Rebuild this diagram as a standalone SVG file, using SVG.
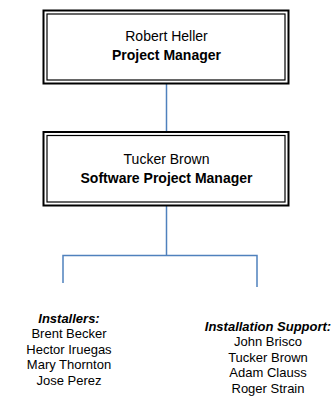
<svg xmlns="http://www.w3.org/2000/svg" width="336" height="399" viewBox="0 0 336 399">
  <style>
    .outer { fill: #ffffff; stroke: #000000; stroke-width: 2; }
    .inner { fill: none; stroke: #000000; stroke-width: 1.2; }
    .t { font-family: "Liberation Sans", Arial, sans-serif; font-size: 14px; fill: #000000; text-anchor: middle; }
    .s { font-size: 13px; }
    .b { font-weight: bold; }
    .bi { font-weight: bold; font-style: italic; }
    .conn { fill: none; stroke: #4F81BD; stroke-width: 1.5; }
  </style>

  <g id="connectors">
    <line class="conn" x1="166.5" y1="84" x2="166.5" y2="132"/>
    <line class="conn" x1="166.5" y1="205.5" x2="166.5" y2="255.5"/>
    <polyline class="conn" points="63,283 63,255.5 257,255.5 257,287"/>
  </g>

  <g id="robert-heller">
    <rect class="outer" x="43.5" y="10.5" width="245" height="73"/>
    <rect class="inner" x="47" y="14" width="238" height="66"/>
    <text class="t" x="166.5" y="41">Robert Heller</text>
    <text class="t b" x="166.5" y="60">Project Manager</text>
  </g>

  <g id="tucker-brown">
    <rect class="outer" x="43.5" y="132" width="245" height="73.5"/>
    <rect class="inner" x="47" y="135.5" width="238" height="66.5"/>
    <text class="t" x="166.5" y="164">Tucker Brown</text>
    <text class="t b" x="166.5" y="183">Software Project Manager</text>
  </g>

  <g id="installers">
    <text class="t s bi" x="69" y="323">Installers:</text>
    <text class="t s" x="69" y="338">Brent Becker</text>
    <text class="t s" x="69" y="354">Hector Iruegas</text>
    <text class="t s" x="69" y="369">Mary Thornton</text>
    <text class="t s" x="69" y="385">Jose Perez</text>
  </g>

  <g id="installation-support">
    <text class="t s bi" x="268" y="331">Installation Support:</text>
    <text class="t s" x="268" y="346">John Brisco</text>
    <text class="t s" x="268" y="362">Tucker Brown</text>
    <text class="t s" x="268" y="377">Adam Clauss</text>
    <text class="t s" x="268" y="393">Roger Strain</text>
  </g>
</svg>
